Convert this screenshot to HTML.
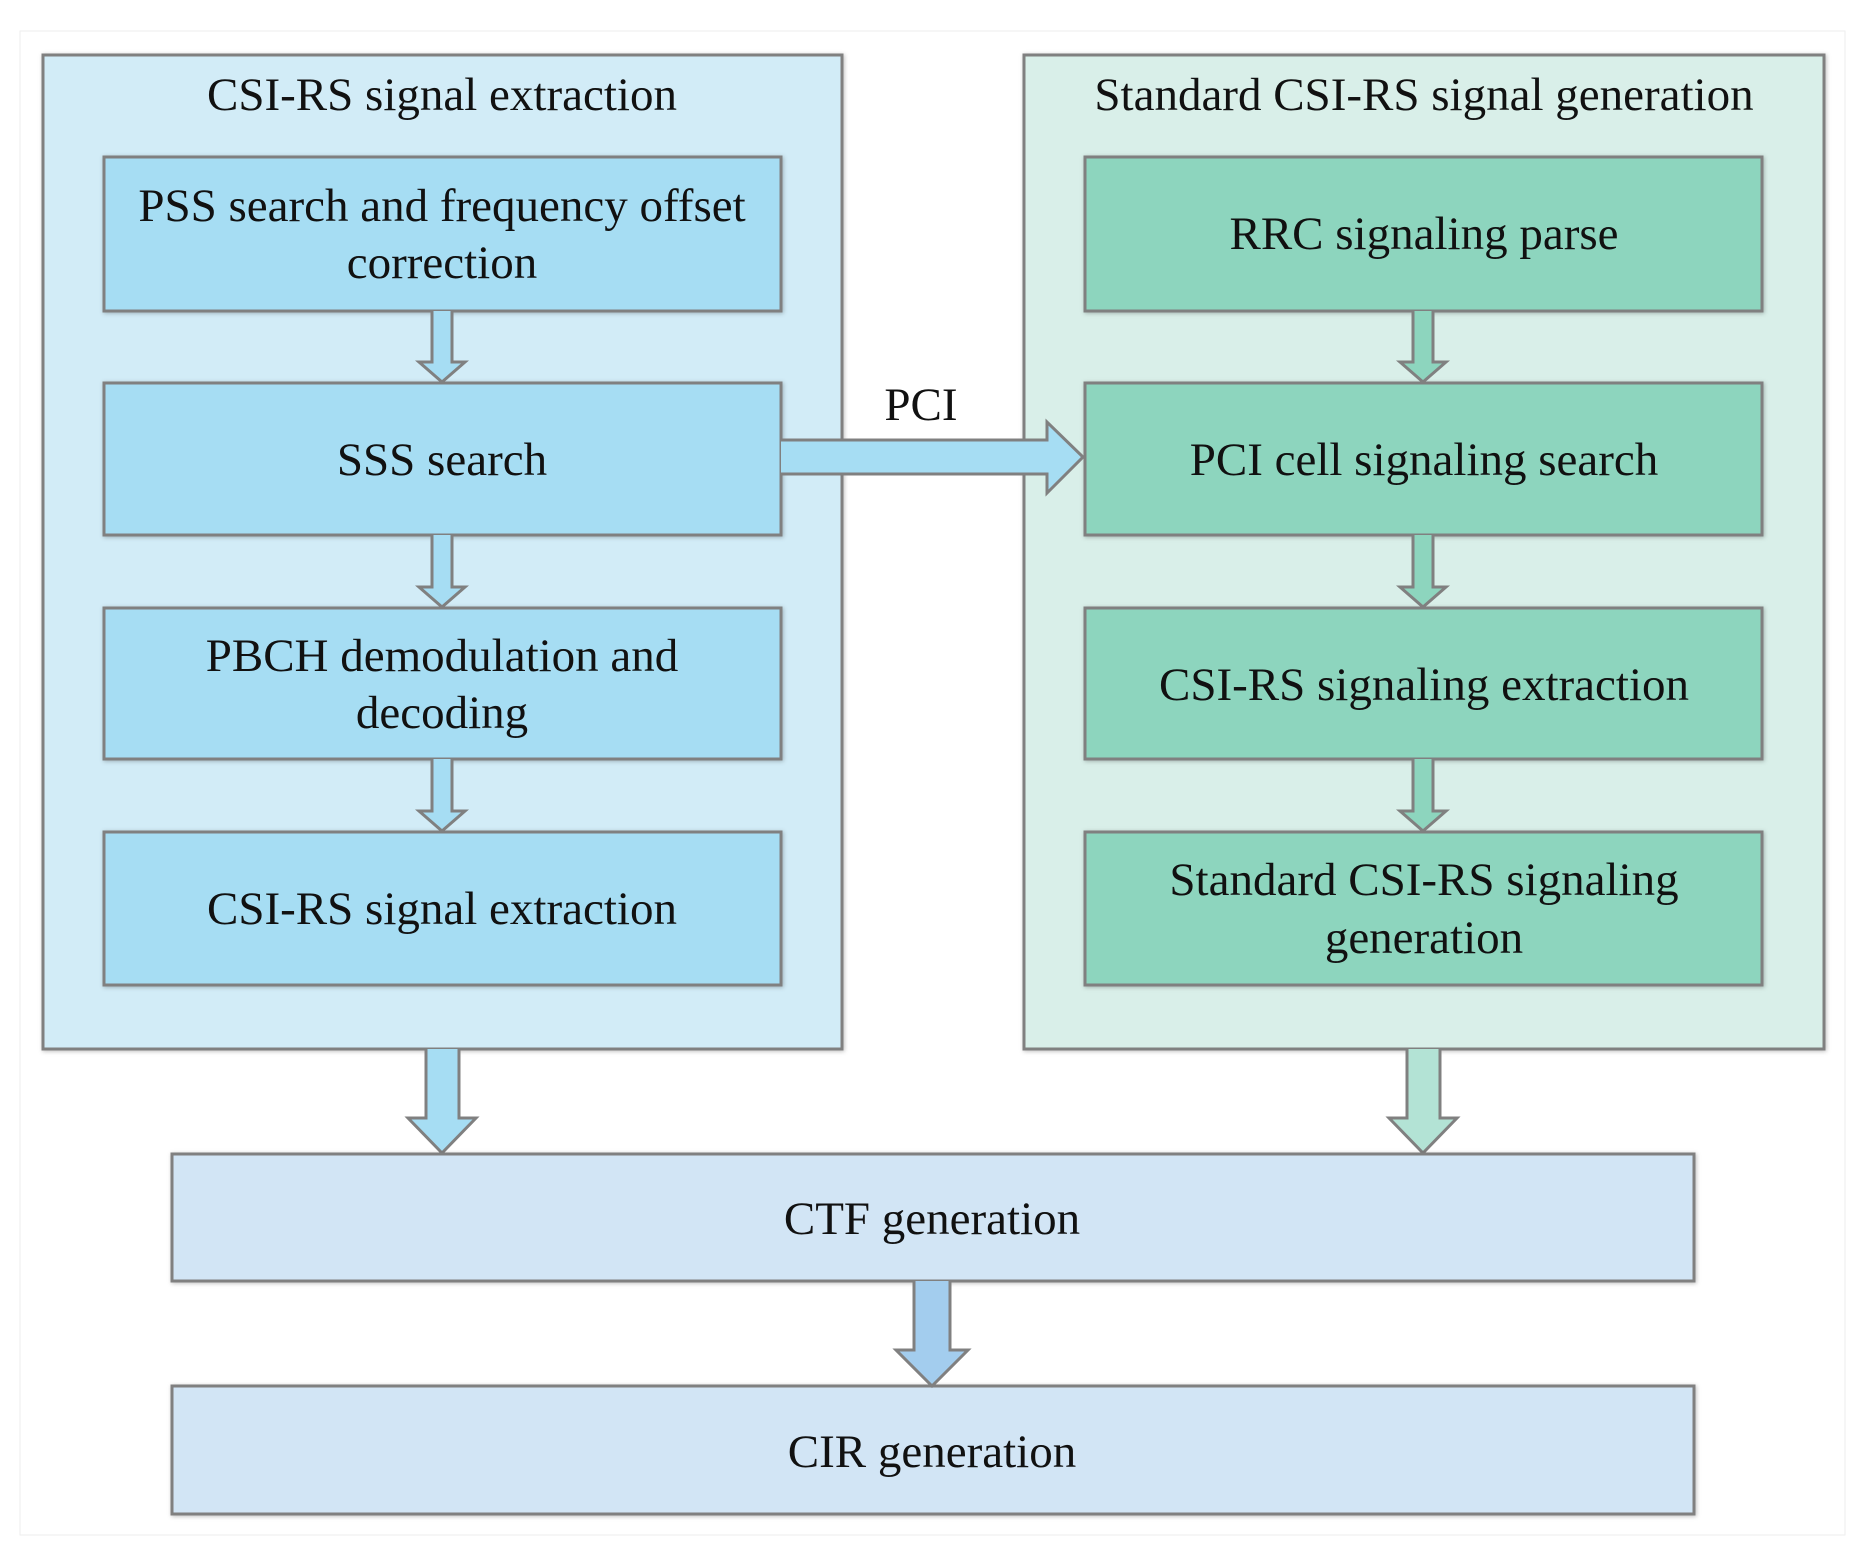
<!DOCTYPE html>
<html><head><style>
html,body{margin:0;padding:0;background:#fff;}
svg{display:block;}
text{font-family:"Liberation Serif",serif;font-size:47px;fill:#111;text-anchor:middle;}
</style></head><body>
<svg width="1863" height="1550" viewBox="0 0 1863 1550">
<defs><filter id="s" x="-5%" y="-5%" width="110%" height="110%"><feDropShadow dx="1" dy="1" stdDeviation="2" flood-color="#000" flood-opacity="0.25"/></filter></defs>
<rect x="20" y="31" width="1825" height="1504" fill="#fff" stroke="#eee" stroke-width="1"/>
<rect x="43" y="55" width="799" height="994" fill="#d2ecf7" stroke="#808080" stroke-width="3" filter="url(#s)"/>
<rect x="1024" y="55" width="800" height="994" fill="#d9efe9" stroke="#808080" stroke-width="3" filter="url(#s)"/>
<text x="442" y="110">CSI-RS signal extraction</text>
<text x="1424" y="110">Standard CSI-RS signal generation</text>
<g fill="#a6ddf3" stroke="#808080" stroke-width="3" filter="url(#s)">
<rect x="104" y="157" width="677" height="154"/>
<rect x="104" y="383" width="677" height="152"/>
<rect x="104" y="608" width="677" height="151"/>
<rect x="104" y="832" width="677" height="153"/>
</g>
<g fill="#8dd5be" stroke="#808080" stroke-width="3" filter="url(#s)">
<rect x="1085" y="157" width="677" height="154"/>
<rect x="1085" y="383" width="677" height="152"/>
<rect x="1085" y="608" width="677" height="151"/>
<rect x="1085" y="832" width="677" height="153"/>
</g>
<g stroke="#808080" stroke-width="3" fill="#a6ddf3">
<path d="M432 311 V362 H419 L442 382 L465 362 H452 V311"/>
<path d="M432 535 V587 H419 L442 607 L465 587 H452 V535"/>
<path d="M432 759 V811 H419 L442 831 L465 811 H452 V759"/>
</g>
<g stroke="#808080" stroke-width="3" fill="#8dd5be">
<path d="M1413 311 V362 H1400 L1423 382 L1446 362 H1433 V311"/>
<path d="M1413 535 V587 H1400 L1423 607 L1446 587 H1433 V535"/>
<path d="M1413 759 V811 H1400 L1423 831 L1446 811 H1433 V759"/>
</g>
<path d="M781 440 H1047 V422 L1083 457 L1047 493 V474 H781" fill="#a6ddf3" stroke="#808080" stroke-width="3"/>
<text x="921" y="420">PCI</text>
<path d="M426 1049 V1118 H408 L442 1153 L476 1118 H459 V1049" fill="#a6ddf3" stroke="#808080" stroke-width="3"/>
<path d="M1407 1049 V1118 H1389 L1423 1153 L1457 1118 H1440 V1049" fill="#b3e3d5" stroke="#808080" stroke-width="3"/>
<g fill="#d2e5f5" stroke="#808080" stroke-width="3" filter="url(#s)">
<rect x="172" y="1154" width="1522" height="127"/>
<rect x="172" y="1386" width="1522" height="128"/>
</g>
<path d="M914 1281 V1350 H896 L932 1386 L968 1350 H950 V1281" fill="#a3cdee" stroke="#808080" stroke-width="3"/>
<text x="442" y="221">PSS  search and frequency offset</text>
<text x="442" y="278">correction</text>
<text x="442" y="475">SSS  search</text>
<text x="442" y="671">PBCH demodulation and</text>
<text x="442" y="728">decoding</text>
<text x="442" y="924">CSI-RS signal extraction</text>
<text x="1424" y="249">RRC  signaling parse</text>
<text x="1424" y="475">PCI cell signaling search</text>
<text x="1424" y="700">CSI-RS signaling extraction</text>
<text x="1424" y="895">Standard CSI-RS signaling</text>
<text x="1424" y="953">generation</text>
<text x="932" y="1234">CTF generation</text>
<text x="932" y="1467">CIR generation</text>
</svg>
</body></html>
